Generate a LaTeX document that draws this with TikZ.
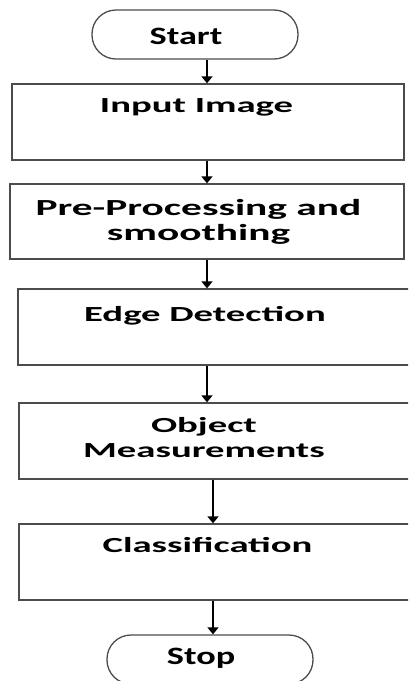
\documentclass[tikz,border=0pt]{standalone}
\usepackage{fontspec}
\setmainfont{Carlito}
\newfontfamily\boxfont[FakeStretch=1.8]{Carlito}
\newfontfamily\endfont[FakeStretch=1.45]{Carlito}
\usetikzlibrary{arrows.meta}

\tikzset{
  stage/.style={draw=black!70, line width=1.3pt, inner sep=0pt},
  term/.style={stage, rounded corners=24pt},
  txt/.style={anchor=base, inner sep=0pt, align=center,
    font=\boxfont\bfseries\fontsize{21.5}{24.5}\selectfont},
  endtxt/.style={txt, font=\endfont\bfseries\fontsize{25}{25}\selectfont},
  flow/.style={line width=1.3pt, -{Triangle[width=11pt,length=7pt]}}
}

\begin{document}
\begin{tikzpicture}[x=1pt,y=-1pt]
\path[use as bounding box, clip] (0,0) rectangle (408,681);

% terminals
\node[term, minimum width=206pt, minimum height=49pt] (start) at (195,34.5) {};
\node[endtxt] (startT) at (186,44) {Start};

\node[term, minimum width=206pt, minimum height=49pt] (stop) at (210,659.5) {};
\node[endtxt] (stopT) at (201,664) {Stop};

% process boxes (two-line labels sit on their last baseline)
\node[stage, minimum width=392pt, minimum height=76pt] (inp) at (208,122) {};
\node[txt] (inpT) at (196.5,112) {Input Image};

\node[stage, minimum width=394pt, minimum height=75pt] (pre) at (207,221.5) {};
\node[txt, font=\boxfont\bfseries\fontsize{23}{25}\selectfont] (preT) at (198.5,240) {Pre-Processing and\\smoothing};

\node[stage, minimum width=394pt, minimum height=76pt] (edge) at (215,327) {};
\node[txt] (edgeT) at (205,321) {Edge Detection};

\node[stage, minimum width=393pt, minimum height=76pt] (obj) at (215.5,441) {};
\node[txt] (objT) at (204,457) {Object\\Measurements};

\node[stage, minimum width=393pt, minimum height=76pt] (cls) at (215.5,562) {};
\node[txt] (clsT) at (207.5,552) {Classification};

% arrows
\coordinate (colA) at (207,0);
\coordinate (colB) at (213,0);

\draw[flow] (start.south -| colA) -- (inp.north -| colA);
\draw[flow] (inp.south -| colA) -- (pre.north -| colA);
\draw[flow] (pre.south -| colA) -- (edge.north -| colA);
\draw[flow] (edge.south -| colA) -- (obj.north -| colA);
\draw[flow] (obj.south -| colB) -- (cls.north -| colB);
\draw[flow] (cls.south -| colB) -- (stop.north -| colB);

\end{tikzpicture}
\end{document}
